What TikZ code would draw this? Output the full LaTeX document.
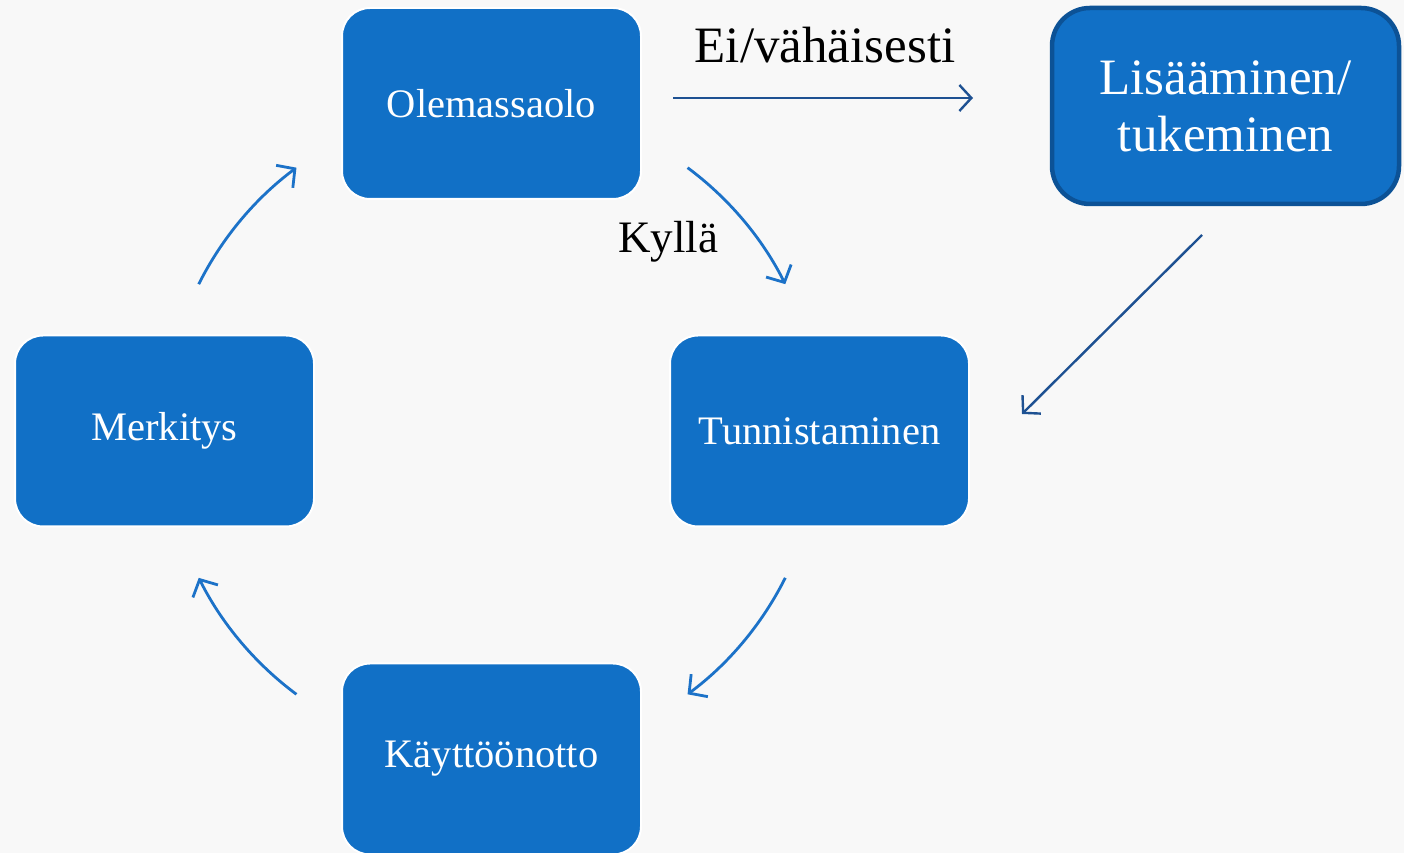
\documentclass[tikz,border=0pt]{standalone}
\usepackage{fontspec}
\setmainfont{Liberation Serif}
\usetikzlibrary{arrows.meta,calc}

\definecolor{boxblue}{HTML}{1170C6}
\definecolor{edgeblue}{HTML}{0C5296}
\definecolor{cyclearrow}{HTML}{1C72C8}
\definecolor{darkarrow}{HTML}{1E5192}
\definecolor{paper}{HTML}{F8F8F8}

\tikzset{
  stage/.style={rectangle, rounded corners=28pt, fill=boxblue, draw=white,
    line width=2pt, minimum width=299pt, minimum height=191pt,
    text=white, font=\fontsize{40.5}{46}\selectfont, align=center},
  extrabox/.style={stage, draw=edgeblue, line width=4.5pt, rounded corners=38pt,
    minimum width=347pt, minimum height=196pt, font=\fontsize{51}{57}\selectfont},
  cyclearr/.style={draw=cyclearrow, line width=2.8pt,
    -{Straight Barb[length=13pt,width=28pt,line width=2.8pt]}},
  darkarr/.style={draw=darkarrow, line width=2.4pt,
    -{Straight Barb[length=12pt,width=26pt,line width=2.4pt]}},
  tag/.style={text=black, font=\fontsize{51}{57}\selectfont},
  smalltag/.style={tag, font=\fontsize{45}{50}\selectfont}
}

\begin{document}
\begin{tikzpicture}[x=1pt,y=1pt]
  % canvas
  \fill[paper] (0,0) rectangle (1404,853);
  \useasboundingbox (0,0) rectangle (1404,853);
  \begin{scope}
  \clip (0,0) rectangle (1404,853);

  % stages of the cycle
  \node[stage] (olem) at (491.5,749.5) {Olemassaolo};
  \node[stage] (merk) at (164.5,422) {Merkitys};
  \node[stage] (tunn) at (819.5,422) {Tunnistaminen};
  \node[stage] (kayt) at (491.5,94) {Käyttöönotto};
  \node[extrabox] (lisa) at (1225.5,747) {Lisääminen/\\tukeminen};

  % labels of the decision
  \node[tag] (ei) at (825,808) {Ei/vähäisesti};
  \node[smalltag] (kylla) at (668,611) {Kyllä};

  % circular arrows round the centre of the cycle
  \coordinate (mid) at (492,422);
  \coordinate (a1) at ($(mid)+(53.4:328)$);
  \coordinate (a2) at ($(mid)+(-26.6:328)$);
  \coordinate (a3) at ($(mid)+(233.4:328)$);
  \coordinate (a4) at ($(mid)+(153.4:328)$);
  \draw[cyclearr] (a1) arc[start angle=53.4, end angle=26.6, radius=328];
  \draw[cyclearr] (a2) arc[start angle=-26.6, end angle=-53.4, radius=328];
  \draw[cyclearr] (a3) arc[start angle=233.4, end angle=206.6, radius=328];
  \draw[cyclearr] (a4) arc[start angle=153.4, end angle=126.6, radius=328];

  % side branch
  \coordinate (h1) at (673,755);
  \coordinate (h2) at (973,755);
  \coordinate (d1) at (1202,618);
  \coordinate (d2) at (1022,439);
  \draw[darkarr] (h1) -- (h2);
  \draw[darkarr] (d1) -- (d2);
  \end{scope}
\end{tikzpicture}
\end{document}
